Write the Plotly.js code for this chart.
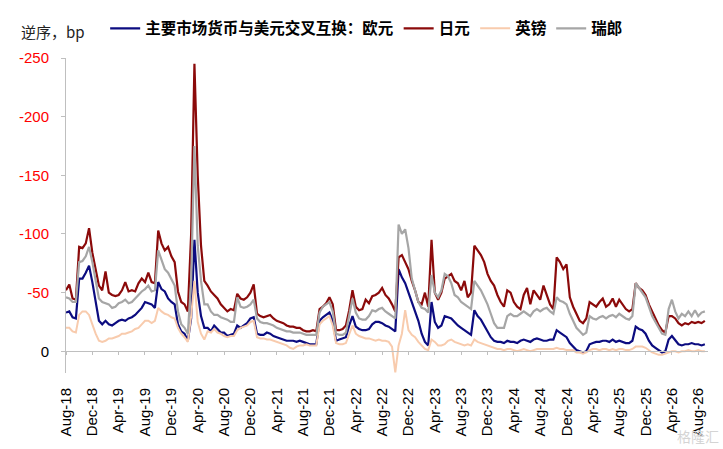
<!DOCTYPE html>
<html>
<head>
<meta charset="utf-8">
<script src="https://cdn.plot.ly/plotly-3.0.1.min.js"></script>
<style>
  html, body { margin: 0; padding: 0; background: #fff; }
  #myPlot { width: 723px; height: 449px; }
</style>
</head>
<body>
<div id="myPlot"></div>
<script>
// 半月一点，起点 2018-08-01
var series_names = ['主要市场货币与美元交叉互换：欧元', '日元', '英镑', '瑞郎'];

var eur = [-33,-34,-29,-28,-62,-62,-67,-73,-59,-42,-26,-23,-26,-23,-22,-24,-26,-27,-26,-28,
  -29,-31,-34,-37,-42,-41,-40,-37,-59,-53,-51,-45,-42,-40,-23,-17,-15,-9,-28,-95,
  -50,-30,-20,-20,-17,-22,-19,-16,-16,-13,
  -14,-15,-22,-20,-22,-24,-28,-29,-15,-14,-14,-16,-15,-13,-12,-11,-10,-9,-9,-9,
  -8,-9,-8,-7,-6,-6,-6,-26,-29,-31,-33,-26,-9,-10,-11,-12,-22,-30,-21,-19,
  -18,-18,-19,-23,-25,-25,-24,-22,-21,-19,
  -17,-70,-63,-58,-50,-42,-35,-26,-15,-8,-5,-42,-25,-20,-22,-30,-29,-28,-25,-22,
  -20,-18,-16,-14,-35,-30,-27,-22,-18,-12,-9,-8,-8,-7,-9,-8,-8,-7,-9,-10,
  -9,-8,-10,-11,-10,-9,-9,-10,-10,-18,
  -16,-14,-12,-7,-4,-1,0,1,0,-6,-7,-8,-8,-9,-9,-8,-10,-8,-9,-8,
  -7,-7,-9,-21,-19,-18,-15,-9,-5,-3,-1,1,0,-10,-13,-9,-6,-5,-6,-6,
  -7,-6,-6,-5,-6];

var jpy = [-52,-57,-45,-44,-89,-88,-92,-105,-84,-70,-56,-52,-68,-50,-48,-47,-48,-52,-59,-51,
  -52,-51,-58,-62,-59,-67,-59,-58,-103,-92,-86,-89,-81,-76,-51,-42,-40,-34,-100,-245,
  -150,-90,-60,-56,-51,-48,-45,-40,-37,-34,
  -36,-35,-49,-45,-44,-46,-50,-57,-32,-30,-29,-30,-31,-28,-26,-25,-24,-22,-21,-21,
  -20,-20,-18,-17,-17,-18,-17,-36,-38,-41,-46,-40,-18,-18,-19,-22,-35,-52,-38,-35,
  -36,-44,-41,-47,-48,-50,-54,-48,-45,-40,
  -34,-80,-82,-76,-70,-60,-52,-42,-40,-50,-38,-95,-50,-44,-50,-62,-64,-66,-60,-58,
  -52,-60,-46,-50,-90,-86,-82,-76,-66,-60,-56,-48,-42,-38,-52,-50,-42,-38,-36,-48,
  -54,-40,-52,-48,-44,-56,-48,-40,-36,-80,
  -76,-70,-74,-46,-38,-32,-26,-24,-28,-42,-40,-38,-42,-45,-38,-40,-45,-38,-44,-40,
  -36,-34,-36,-58,-54,-52,-48,-40,-34,-28,-22,-18,-16,-30,-30,-28,-24,-22,-24,-23,
  -25,-24,-25,-24,-26];

var gbp = [-20,-20,-17,-16,-31,-34,-34,-31,-23,-15,-9,-8,-9,-11,-11,-12,-13,-15,-15,-16,
  -17,-19,-20,-23,-26,-26,-24,-26,-37,-34,-32,-31,-29,-28,-20,-15,-12,-8,-30,-60,
  -25,-15,-10,-17,-16,-19,-16,-15,-13,-12,
  -13,-13,-18,-20,-21,-22,-25,-26,-12,-11,-11,-10,-10,-9,-8,-7,-6,-5,-3,-2,
  -4,-5,-5,-6,-5,-5,-5,-23,-26,-28,-30,-22,-7,-6,-6,-7,-15,-22,-15,-13,
  -12,-11,-11,-10,-9,-10,-9,-9,-8,-4,
  18,-5,-15,-35,-18,-14,-12,-8,-5,-2,-1,-10,-8,-5,-5,-6,-9,-10,-8,-7,
  -6,-5,-6,-5,-10,-8,-7,-6,-5,-4,-3,-2,-2,-1,-2,-2,-1,0,-1,-2,
  -1,0,-1,-2,-2,-2,-2,-2,-2,-3,
  -2,-2,-1,-1,-1,1,1,2,1,-1,-2,-2,-1,-2,-2,-1,-2,-1,-2,-2,
  -1,-1,-2,-4,-4,-4,-3,-1,1,2,3,3,2,1,0,0,1,0,0,-1,
  0,0,-1,0,0];

var chf = [-46,-45,-42,-42,-76,-77,-81,-89,-76,-59,-45,-42,-41,-40,-37,-38,-41,-42,-44,-41,
  -42,-45,-48,-51,-53,-56,-51,-52,-86,-78,-70,-67,-62,-56,-34,-23,-20,-15,-60,-175,
  -90,-60,-40,-40,-34,-31,-31,-29,-28,-27,
  -25,-25,-46,-38,-37,-38,-40,-44,-28,-25,-24,-24,-23,-22,-20,-19,-18,-17,-17,-16,
  -16,-16,-15,-14,-14,-14,-14,-33,-38,-40,-42,-34,-15,-14,-14,-16,-30,-45,-33,-28,
  -27,-27,-30,-35,-34,-36,-37,-34,-32,-30,
  -28,-108,-100,-104,-88,-62,-52,-42,-37,-36,-33,-65,-50,-46,-52,-66,-64,-58,-48,-46,
  -42,-40,-38,-36,-60,-56,-52,-46,-40,-32,-24,-20,-20,-20,-30,-32,-30,-30,-32,-34,
  -32,-30,-34,-36,-34,-36,-37,-34,-32,-46,
  -43,-42,-40,-32,-26,-20,-17,-14,-16,-30,-28,-27,-29,-30,-28,-30,-31,-29,-32,-30,
  -28,-27,-30,-58,-54,-50,-46,-38,-30,-25,-20,-15,-14,-36,-44,-34,-28,-32,-30,-34,
  -30,-35,-30,-33,-34];

var y_ticks = [0, -50, -100, -150, -200, -250];
var y_labels = ['<span style="color:#000">0</span>', '-50', '-100', '-150', '-200', '-250'];

var colors = ['#0c0c80', '#8b0a0a', '#f8cbad', '#a6a6a6'];
var widths = [2.2, 2.2, 2, 2.2];
var all_series = [eur, jpy, gbp, chf];

var traces = [];
for (var i = 0; i < all_series.length; i++) {
  traces.push({
    y: all_series[i],
    x0: '2018-08-01',
    dx: 1314900000,
    name: series_names[i],
    type: 'scatter',
    mode: 'lines',
    line: {color: colors[i], width: widths[i]},
    hoverinfo: 'skip'
  });
}
// 零轴上的刻度线
traces.push({x: [], y: [], xaxis: 'x2', showlegend: false, hoverinfo: 'skip'});

var yMin = 18.5, yMax = -250;

var layout = {
  width: 723,
  height: 449,
  margin: {l: 66, r: 15, t: 50, b: 76},
  paper_bgcolor: '#fff',
  plot_bgcolor: '#fff',
  showlegend: true,
  legend: {
    orientation: 'h',
    x: 0.061,
    xanchor: 'left',
    y: 1.093,
    yanchor: 'middle',
    itemwidth: 30,
    bgcolor: 'rgba(0,0,0,0)',
    font: {family: 'Noto Sans CJK SC', size: 15.5, color: '#000', weight: 'bold'}
  },
  xaxis: {
    type: 'date',
    range: ['2018-08-01', '2026-09-15'],
    tick0: '2018-08-01',
    dtick: 'M4',
    tickformat: '%b-%y',
    tickangle: -90,
    ticks: '',
    ticklabelstandoff: 11,
    showline: false,
    showgrid: false,
    zeroline: false,
    tickfont: {family: 'Liberation Sans, Arial, sans-serif', size: 15, color: '#000'}
  },
  xaxis2: {
    type: 'date',
    overlaying: 'x',
    matches: 'x',
    anchor: 'free',
    position: yMin / (yMin - yMax),
    tick0: '2018-08-01',
    dtick: 'M4',
    showticklabels: false,
    showline: true,
    linecolor: '#bfbfbf',
    linewidth: 1,
    ticks: 'outside',
    ticklen: 3,
    tickcolor: '#bfbfbf',
    showgrid: false,
    zeroline: false
  },
  yaxis: {
    range: [yMin, yMax],
    tickvals: y_ticks,
    ticktext: y_labels,
    showline: true,
    linecolor: '#bfbfbf',
    linewidth: 1,
    ticks: 'outside',
    ticklen: 4,
    tickcolor: '#bfbfbf',
    ticklabelstandoff: 9,
    showgrid: false,
    zeroline: false,
    tickfont: {family: 'Liberation Sans, Arial, sans-serif', size: 15, color: '#ff0000'}
  },
  annotations: [
    {
      text: '逆序，bp',
      xref: 'paper', yref: 'paper',
      x: -0.073, y: 1.084,
      xanchor: 'left', yanchor: 'middle',
      showarrow: false,
      font: {family: 'Noto Sans CJK SC', size: 15, color: '#222'}
    },
    {
      text: '格隆汇',
      xref: 'paper', yref: 'paper',
      x: 1.02, y: -0.2,
      xanchor: 'right', yanchor: 'middle',
      showarrow: false,
      font: {family: 'Noto Sans CJK SC', size: 14, color: '#d4d4d4'}
    }
  ]
};

Plotly.newPlot('myPlot', traces, layout, {displayModeBar: false, staticPlot: true});
</script>
</body>
</html>
